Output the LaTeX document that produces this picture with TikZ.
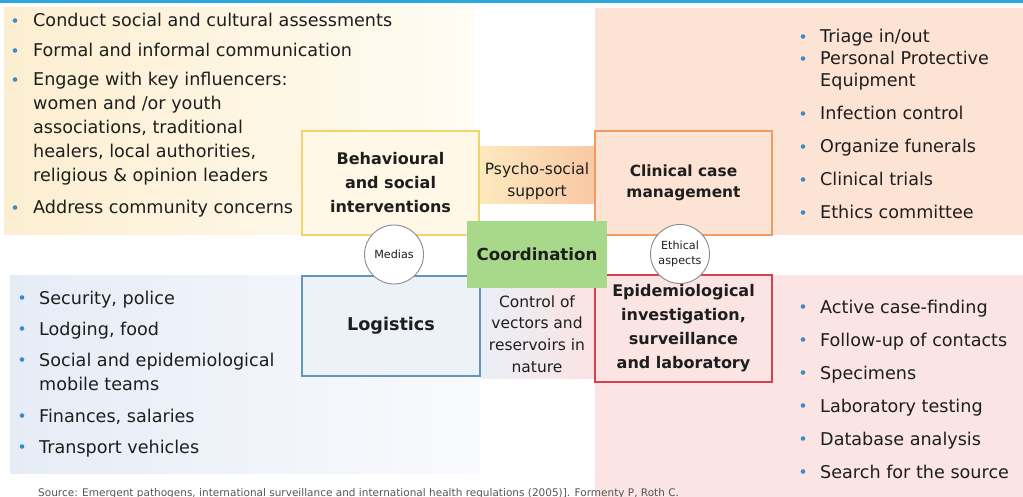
\documentclass[tikz,border=0pt]{standalone}
\usepackage{fontspec}
\setmainfont{DejaVu Sans}
\definecolor{topblue}{HTML}{2AA7DF}
\definecolor{ylL}{HTML}{FCEED0}
\definecolor{ylR}{HTML}{FFFCF4}
\definecolor{peach}{HTML}{FCE3D3}
\definecolor{pinkbg}{HTML}{FAE4E4}
\definecolor{blL}{HTML}{E6ECF6}
\definecolor{blR}{HTML}{F9FAFD}
\definecolor{psyL}{HTML}{FDE9BE}
\definecolor{psyR}{HTML}{F8C8A4}
\definecolor{ctlL}{HTML}{EAEFF7}
\definecolor{ctlR}{HTML}{FBE2E2}
\definecolor{coordc}{HTML}{A8D88A}
\definecolor{behB}{HTML}{F3D46C}
\definecolor{behF}{HTML}{FFF8E7}
\definecolor{cliB}{HTML}{EF9C62}
\definecolor{logB}{HTML}{6296BF}
\definecolor{logF}{HTML}{EDF1F8}
\definecolor{epiB}{HTML}{D7404E}
\definecolor{txt}{HTML}{1E1E1E}
\definecolor{bul}{HTML}{3A8DC8}
\definecolor{srcgray}{HTML}{555555}
\definecolor{circB}{HTML}{8A8A8A}
\begin{document}
\begin{tikzpicture}[x=1pt,y=-1pt,
  li/.style={anchor=base west, inner sep=0pt, text=txt, font=\fontsize{17.6}{24}\selectfont},
  bulletdot/.style={circle, fill=bul, inner sep=0pt, minimum size=4.6pt},
  bigbox/.style={draw, line width=1.2pt, inner sep=0pt, align=center, text=txt,
    font=\fontsize{16}{24}\selectfont\bfseries},
  midtext/.style={align=center, inner sep=0pt, text=txt, font=\fontsize{15.5}{21.7}\selectfont},
  circ/.style={circle, draw=circB, line width=0.9pt, fill=white, minimum size=59pt,
    inner sep=0pt, align=center, text=txt, font=\fontsize{11.2}{15}\selectfont}
]
\useasboundingbox (0,0) rectangle (1023,497);
\clip (0,0) rectangle (1023,497);
\fill[white] (0,0) rectangle (1023,497);
\fill[topblue] (0,0) rectangle (1023,3);
% panels
\shade[left color=ylL, right color=ylR] (4,8) rectangle (473,235);
\fill[peach] (595,8) rectangle (1023,235);
\shade[left color=blL, right color=blR] (10,275) rectangle (480,473);
\fill[pinkbg] (595,275) rectangle (1023,497);
\shade[left color=psyL, right color=psyR] (479,147) rectangle (595,204);
\shade[left color=ctlL, right color=ctlR] (480,288) rectangle (595,378);
% main boxes
\node[bigbox, draw=behB, fill=behF, minimum width=177pt, minimum height=104pt] (beh) at (390.5,183) {Behavioural\\and social\\interventions};
\node[bigbox, draw=cliB, fill=peach, minimum width=177pt, minimum height=104pt, font=\fontsize{15.4}{21}\selectfont\bfseries] (cli) at (683.5,183) {Clinical case\\management};
\node[bigbox, draw=logB, fill=logF, minimum width=178pt, minimum height=100pt, font=\fontsize{17.6}{24}\selectfont\bfseries] (log) at (391,326) {Logistics};
\node[bigbox, draw=epiB, fill=pinkbg, minimum width=177pt, minimum height=107pt] (epi) at (683.5,328.5) {Epidemiological\\investigation,\\surveillance\\and laboratory};
% middle texts
\node[midtext] (psy) at (537,181) {Psycho-social\\support};
\node[midtext] (ctl) at (537,334) {Control of\\vectors and\\reservoirs in\\nature};
\node[fill=coordc, minimum width=140pt, minimum height=67pt, inner sep=0pt, text=txt,
  font=\fontsize{16.6}{20}\selectfont\bfseries] (coord) at (537,254.5) {Coordination};
% circles
\node[circ] (med) at (394,254.5) {Medias};
\node[circ] (eth) at (680,254) {Ethical\\aspects};
% top-left list
\node[bulletdot] (tlb1) at (15,20.5) {};
\node[li] (tl1) at (33,27) {Conduct social and cultural assessments};
\node[bulletdot] (tlb2) at (15,50.5) {};
\node[li] (tl2) at (33,57) {Formal and informal communication};
\node[bulletdot] (tlb3) at (15,79.5) {};
\node[li] (tl3) at (33,86) {Engage with key influencers:};
\node[li] (tl4) at (33,110) {women and /or youth};
\node[li] (tl5) at (33,134) {associations, traditional};
\node[li] (tl6) at (33,158) {healers, local authorities,};
\node[li] (tl7) at (33,182) {religious \& opinion leaders};
\node[bulletdot] (tlb4) at (15,207.5) {};
\node[li] (tl8) at (33,214) {Address community concerns};
% top-right list
\node[bulletdot] (trb1) at (803,36.5) {};
\node[li] (tr1) at (820,43) {Triage in/out};
\node[bulletdot] (trb2) at (803,58.5) {};
\node[li] (tr2) at (820,65) {Personal Protective};
\node[li] (tr3) at (820,87) {Equipment};
\node[bulletdot] (trb3) at (803,113.5) {};
\node[li] (tr4) at (820,120) {Infection control};
\node[bulletdot] (trb4) at (803,146.5) {};
\node[li] (tr5) at (820,153) {Organize funerals};
\node[bulletdot] (trb5) at (803,179.5) {};
\node[li] (tr6) at (820,186) {Clinical trials};
\node[bulletdot] (trb6) at (803,212.5) {};
\node[li] (tr7) at (820,219) {Ethics committee};
% bottom-left list
\node[bulletdot] (blb1) at (22,297.5) {};
\node[li] (bl1) at (39,304) {Security, police};
\node[bulletdot] (blb2) at (22,328.5) {};
\node[li] (bl2) at (39,335) {Lodging, food};
\node[bulletdot] (blb3) at (22,359.5) {};
\node[li] (bl3) at (39,366) {Social and epidemiological};
\node[li] (bl4) at (39,390) {mobile teams};
\node[bulletdot] (blb4) at (22,415.5) {};
\node[li] (bl5) at (39,422) {Finances, salaries};
\node[bulletdot] (blb5) at (22,446.5) {};
\node[li] (bl6) at (39,453) {Transport vehicles};
% bottom-right list
\node[bulletdot] (brb1) at (803,306.5) {};
\node[li] (br1) at (820,313) {Active case-finding};
\node[bulletdot] (brb2) at (803,339.5) {};
\node[li] (br2) at (820,346) {Follow-up of contacts};
\node[bulletdot] (brb3) at (803,372.5) {};
\node[li] (br3) at (820,379) {Specimens};
\node[bulletdot] (brb4) at (803,405.5) {};
\node[li] (br4) at (820,412) {Laboratory testing};
\node[bulletdot] (brb5) at (803,438.5) {};
\node[li] (br5) at (820,445) {Database analysis};
\node[bulletdot] (brb6) at (803,471.5) {};
\node[li] (br6) at (820,478) {Search for the source};
% source
\node[anchor=base west, inner sep=0pt, text=srcgray, font=\fontsize{10.5}{11}\selectfont] (src) at (38,496) {Source: Emergent pathogens, international surveillance and international health regulations (2005)]. Formenty P, Roth C.};
\end{tikzpicture}
\end{document}
